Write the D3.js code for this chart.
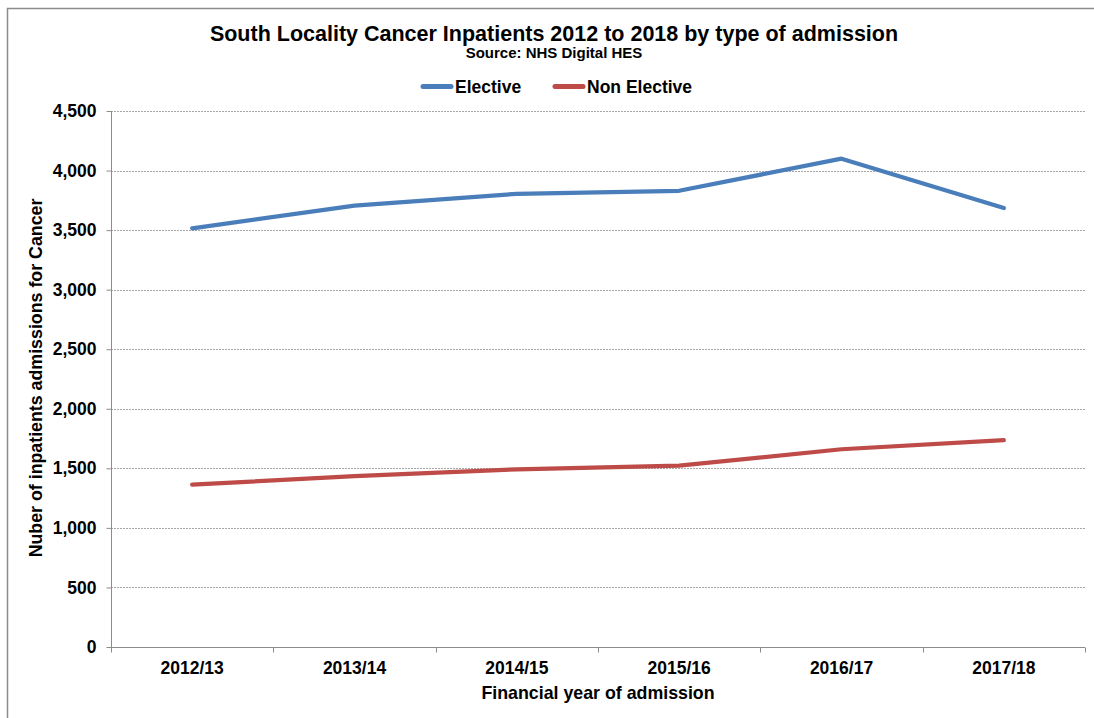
<!DOCTYPE html>
<html>
<head>
<meta charset="utf-8">
<script src="https://cdn.jsdelivr.net/npm/d3@7/dist/d3.min.js"></script>
<style>
  html, body { margin: 0; padding: 0; background: #fff; }
  svg { display: block; font-family: "Liberation Sans", Arial, sans-serif; }
</style>
</head>
<body>
<svg id="chart" width="1094" height="718"></svg>
<script>
const categories = ["2012/13", "2013/14", "2014/15", "2015/16", "2016/17", "2017/18"];
const elective = [3515, 3705, 3805, 3830, 4100, 3685];
const nonElective = [1363, 1435, 1492, 1522, 1660, 1737];
const yTicks = [0, 500, 1000, 1500, 2000, 2500, 3000, 3500, 4000, 4500];
const seriesNames = ["Elective", "Non Elective"];
const seriesColors = ["#4A7EBB", "#BE4B48"];

const svg = d3.select("#chart");
const W = 1094, H = 718;
const pLeft = 111, pRight = 1085, pTop = 111, pBottom = 647;

// outer frame
svg.append("rect").attr("x", 7.5).attr("y", 8.5).attr("width", W + 20).attr("height", H + 20)
  .attr("fill", "#fff").attr("stroke", "#8c8c8c").attr("stroke-width", 1.5);

const x = d3.scaleBand().domain(categories).range([pLeft, pRight]).padding(0);
const y = d3.scaleLinear().domain([0, 4500]).range([pBottom, pTop]);

// gridlines
svg.append("g").selectAll("line").data(yTicks.filter(d => d > 0)).join("line")
  .attr("x1", pLeft).attr("x2", pRight)
  .attr("y1", d => Math.round(y(d)) + 0.5).attr("y2", d => Math.round(y(d)) + 0.5)
  .attr("stroke", "#a6a6a6").attr("stroke-width", 1).attr("stroke-dasharray", "2,1");

// y axis
const yAxis = d3.axisLeft(y).tickValues(yTicks).tickSize(5).tickPadding(10)
  .tickFormat(d3.format(","));
const gy = svg.append("g").attr("transform", `translate(${pLeft + 0.5},0)`).call(yAxis);
gy.select(".domain").attr("stroke", "#8c8c8c").attr("d", `M0,${pTop}V${pBottom}`);
gy.selectAll(".tick line").attr("stroke", "#8c8c8c");
gy.selectAll(".tick text").attr("font-size", 17.5).attr("font-weight", "bold").attr("fill", "#000")
  .attr("font-family", "'Liberation Sans', Arial, sans-serif");

// x axis
const xAxis = d3.axisBottom(x).tickSize(0).tickPadding(14);
const gx = svg.append("g").attr("transform", `translate(0,${pBottom + 0.5})`).call(xAxis);
gx.select(".domain").attr("stroke", "#8c8c8c").attr("d", `M${pLeft},0H${pRight}`);
gx.selectAll(".tick text").attr("font-size", 17.5).attr("font-weight", "bold").attr("fill", "#000")
  .attr("font-family", "'Liberation Sans', Arial, sans-serif");
// band boundary ticks
const bounds = categories.map(c => x(c)).concat([x.range()[1]]);
gx.append("g").selectAll("line").data(bounds).join("line")
  .attr("x1", d => Math.round(d) + 0.5).attr("x2", d => Math.round(d) + 0.5)
  .attr("y1", 0).attr("y2", 5).attr("stroke", "#8c8c8c");

// lines
const line = d3.line().x((d, i) => x(categories[i]) + x.bandwidth() / 2).y(d => y(d));
[elective, nonElective].forEach((vals, i) => {
  svg.append("path").datum(vals).attr("d", line)
    .attr("fill", "none").attr("stroke", seriesColors[i]).attr("stroke-width", 4.2)
    .attr("stroke-linejoin", "round").attr("stroke-linecap", "round");
});

// title
svg.append("text").attr("x", 554).attr("y", 41).attr("text-anchor", "middle")
  .attr("font-size", 21.5).attr("font-weight", "bold").attr("fill", "#000")
  .text("South Locality Cancer Inpatients 2012 to 2018 by type of admission");
svg.append("text").attr("x", 554).attr("y", 58).attr("text-anchor", "middle")
  .attr("font-size", 15).attr("font-weight", "bold").attr("fill", "#000")
  .text("Source: NHS Digital HES");

// legend
const legendItems = [
  { name: seriesNames[0], color: seriesColors[0], x0: 421 },
  { name: seriesNames[1], color: seriesColors[1], x0: 553 }
];
legendItems.forEach(it => {
  svg.append("line").attr("x1", it.x0 + 2).attr("x2", it.x0 + 30)
    .attr("y1", 86.5).attr("y2", 86.5)
    .attr("stroke", it.color).attr("stroke-width", 5).attr("stroke-linecap", "round");
  svg.append("text").attr("x", it.x0 + 34).attr("y", 92.5)
    .attr("font-size", 17.5).attr("font-weight", "bold").attr("fill", "#000").text(it.name);
});

// axis titles
svg.append("text").attr("x", 598).attr("y", 699).attr("text-anchor", "middle")
  .attr("font-size", 17.8).attr("font-weight", "bold").attr("fill", "#000")
  .text("Financial year of admission");
svg.append("text").attr("transform", "translate(42,378) rotate(-90)").attr("text-anchor", "middle")
  .attr("font-size", 17.8).attr("font-weight", "bold").attr("fill", "#000")
  .text("Nuber of inpatients admissions for Cancer");
</script>
</body>
</html>
